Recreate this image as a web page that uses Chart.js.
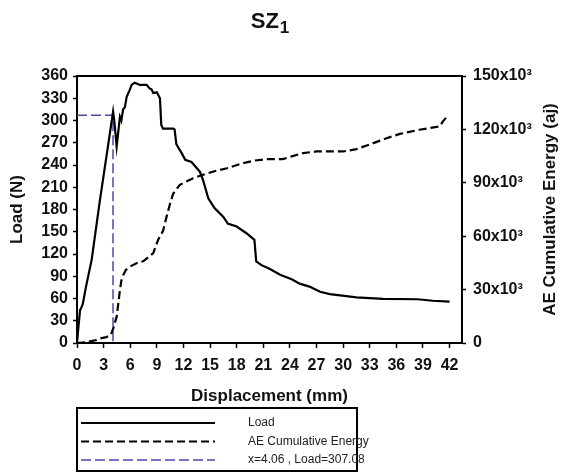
<!DOCTYPE html>
<html>
<head>
<meta charset="utf-8">
<script src="https://cdn.jsdelivr.net/npm/chart.js@4"></script>
<style>
  body { margin: 0; background: #fff; }
  canvas { display: block; }
</style>
</head>
<body>
<canvas id="chart_sz1" width="562" height="475"></canvas>
<script>
const loadX = [0, 0.15, 0.34, 0.5, 0.64, 1.0, 1.65, 2.59, 3.3, 4.07, 4.2, 4.47, 4.7, 4.84, 5.0, 5.2, 5.4, 5.6, 5.9, 6.16, 6.5, 7.1, 7.85, 8.2, 8.4, 8.6, 9.0, 9.35, 9.5, 9.7, 10.85, 11.0, 11.2, 11.8, 12.2, 12.9, 13.85, 14.2, 14.8, 15.5, 16.5, 17.0, 18.0, 19.1, 20.0, 20.2, 20.8, 21.7, 22.9, 24.2, 25.1, 26.2, 27.4, 28.5, 29.9, 31.5, 34.5, 38.4, 40.1, 42.0];
const loadN = [0, 20, 44, 48, 52, 75, 112, 193, 250, 312, 300, 265, 290, 305, 300, 315, 318, 332, 340, 348, 351, 348, 348, 343, 342, 337, 338, 330, 294, 289, 289, 288, 268, 256, 247, 244, 231, 220, 195, 182, 170, 161, 157, 148, 139, 110, 105, 100, 92, 86, 80, 76, 69, 66, 64, 61.6, 59.5, 59, 57, 55.7];

const aeX = [0, 1.0, 2.2, 2.6, 3.3, 3.8, 4.1, 4.47, 4.65, 4.84, 5.0, 5.2, 5.5, 6.0, 6.7, 7.5, 8.6, 9.15, 9.7, 10.1, 10.5, 10.85, 11.6, 13.1, 14.2, 15.5, 16.9, 18.7, 20.0, 21.4, 23.2, 24.3, 25.5, 27.0, 30.0, 31.5, 33.4, 34.9, 36.4, 38.6, 40.9, 41.25, 41.8];
const aeEnergy = [0, 400, 1700, 2600, 3300, 4500, 8300, 14800, 22000, 29800, 35000, 38000, 41000, 43000, 44800, 46000, 50500, 58000, 63000, 71000, 78500, 84000, 88900, 92600, 94500, 96500, 98200, 101000, 102500, 103300, 103300, 105000, 106700, 107600, 107600, 108900, 112300, 115000, 117500, 119800, 121700, 124500, 127700];

// marcador do ponto x=4.06 , Load=307.08
const markerX = 4.06;
const markerLoad = 307.08;

const xMax = 43.4;
const loadMax = 360;
const energyMax = 150000;

const FONTE = "'Liberation Sans', Arial, sans-serif";

function pontos(xs, ys) {
    return xs.map(function (x, i) { return { x: x, y: ys[i] }; });
}

// título, moldura superior, título do eixo direito e legenda
const extras = {
    id: 'extras',
    afterDraw(chart) {
        const ctx = chart.ctx;
        const area = chart.chartArea;
        ctx.save();

        // título SZ1
        ctx.fillStyle = '#111';
        ctx.textBaseline = 'alphabetic';
        ctx.font = 'bold 22px ' + FONTE;
        const wSZ = ctx.measureText('SZ').width;
        ctx.font = 'bold 17px ' + FONTE;
        const w1 = ctx.measureText('1').width;
        const x0 = (area.left + area.right) / 2 - (wSZ + w1) / 2;
        ctx.font = 'bold 22px ' + FONTE;
        ctx.textAlign = 'left';
        ctx.fillText('SZ', x0, 28);
        ctx.font = 'bold 17px ' + FONTE;
        ctx.fillText('1', x0 + wSZ + 1, 33);

        // moldura superior
        ctx.strokeStyle = '#000';
        ctx.lineWidth = 2;
        ctx.beginPath();
        ctx.moveTo(area.left, area.top);
        ctx.lineTo(area.right, area.top);
        ctx.stroke();

        // título do eixo direito
        ctx.save();
        ctx.translate(550, (area.top + area.bottom) / 2);
        ctx.rotate(-Math.PI / 2);
        ctx.font = 'bold 17px ' + FONTE;
        ctx.textAlign = 'center';
        ctx.textBaseline = 'middle';
        ctx.fillStyle = '#111';
        ctx.fillText('AE Cumulative Energy (aj)', 0, 0);
        ctx.restore();

        // legenda
        const bx = 77, by = 408, bw = 280, bh = 63;
        ctx.lineWidth = 2;
        ctx.strokeStyle = '#000';
        ctx.strokeRect(bx, by, bw, bh);
        chart.data.datasets.forEach(function (ds, i) {
            const y = by + 15 + i * 18.5;
            ctx.beginPath();
            ctx.setLineDash(ds.borderDash || []);
            ctx.strokeStyle = ds.borderColor;
            ctx.lineWidth = ds.borderWidth;
            ctx.moveTo(bx + 4, y);
            ctx.lineTo(bx + 138, y);
            ctx.stroke();
            ctx.setLineDash([]);
            ctx.font = '12px ' + FONTE;
            ctx.fillStyle = '#222';
            ctx.textAlign = 'left';
            ctx.textBaseline = 'middle';
            ctx.fillText(ds.label, bx + 171, y);
        });
        ctx.restore();
    }
};

const grafico = new Chart(document.getElementById('chart_sz1').getContext('2d'), {
    type: 'line',
    data: {
        datasets: [{
            label: 'Load',
            data: pontos(loadX, loadN),
            yAxisID: 'y',
            borderColor: '#000',
            borderWidth: 2.2,
            pointRadius: 0,
            tension: 0
        }, {
            label: 'AE Cumulative Energy',
            data: pontos(aeX, aeEnergy),
            yAxisID: 'y1',
            borderColor: '#000',
            borderWidth: 2.2,
            borderDash: [8, 4],
            pointRadius: 0,
            tension: 0
        }, {
            label: 'x=' + markerX + ' , Load=' + markerLoad,
            data: [{ x: 0, y: markerLoad }, { x: markerX, y: markerLoad }, { x: markerX, y: 0 }],
            yAxisID: 'y',
            borderColor: '#4a4aa8',
            borderWidth: 1.5,
            borderDash: [10, 4],
            pointRadius: 0,
            tension: 0
        }]
    },
    options: {
        responsive: false,
        animation: false,
        devicePixelRatio: 1,
        layout: { padding: { top: 76, left: 0, right: 0, bottom: 68 } },
        plugins: {
            legend: { display: false },
            tooltip: { enabled: false }
        },
        scales: {
            x: {
                type: 'linear',
                min: 0,
                max: xMax,
                afterFit: function (s) { s.height = 64; },
                border: { color: '#000', width: 2 },
                grid: { drawOnChartArea: false, color: '#000', tickLength: 5, tickWidth: 1.5 },
                ticks: {
                    stepSize: 3,
                    includeBounds: false,
                    autoSkip: false,
                    padding: 8,
                    maxRotation: 0,
                    color: '#111',
                    font: { family: FONTE, size: 16, weight: 'bold' }
                },
                title: {
                    display: true,
                    text: 'Displacement (mm)',
                    color: '#111',
                    padding: { top: 0, bottom: 0 },
                    font: { family: FONTE, size: 17, weight: 'bold' }
                }
            },
            y: {
                position: 'left',
                min: 0,
                max: loadMax,
                afterFit: function (s) { s.width = 77; },
                border: { color: '#000', width: 2 },
                grid: { drawOnChartArea: false, color: '#000', tickLength: 4, tickWidth: 1.5 },
                ticks: {
                    stepSize: 30,
                    autoSkip: false,
                    padding: 5,
                    color: '#111',
                    font: { family: FONTE, size: 16, weight: 'bold' }
                },
                title: {
                    display: true,
                    text: 'Load (N)',
                    color: '#111',
                    padding: { top: 7, bottom: 0 },
                    font: { family: FONTE, size: 17, weight: 'bold' }
                }
            },
            y1: {
                position: 'right',
                min: 0,
                max: energyMax,
                afterFit: function (s) { s.width = 100; },
                border: { color: '#000', width: 2 },
                grid: { drawOnChartArea: false, color: '#000', tickLength: 4, tickWidth: 1.5 },
                ticks: {
                    stepSize: 30000,
                    autoSkip: false,
                    padding: 7,
                    color: '#111',
                    font: { family: FONTE, size: 16, weight: 'bold' },
                    callback: function (v) { return v === 0 ? '0' : (v / 1000) + 'x10³'; }
                }
            }
        }
    },
    plugins: [extras]
});
</script>
</body>
</html>
